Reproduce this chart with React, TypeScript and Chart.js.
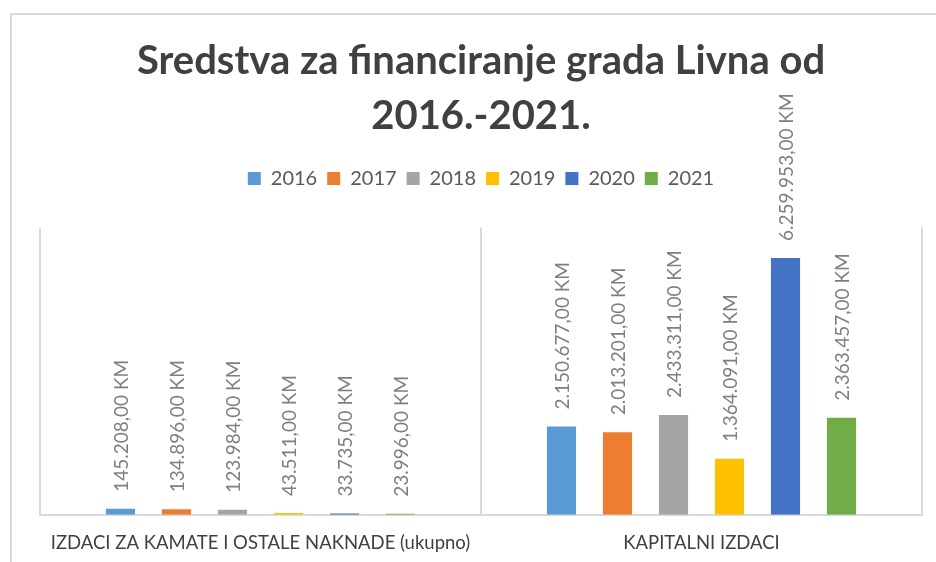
import React, { useEffect, useRef } from "react";
import { Chart, registerables } from "chart.js";

Chart.register(...registerables);

const categories = ["IZDACI ZA KAMATE I OSTALE NAKNADE (ukupno)", "KAPITALNI IZDACI"];
const years = ["2016", "2017", "2018", "2019", "2020", "2021"];
const values2016 = [145208, 2150677];
const values2017 = [134896, 2013201];
const values2018 = [123984, 2433311];
const values2019 = [43511, 1364091];
const values2020 = [33735, 6259953];
const values2021 = [23996, 2363457];
const seriesValues = [values2016, values2017, values2018, values2019, values2020, values2021];
const colors = ["#5B9BD5", "#ED7D31", "#A5A5A5", "#FFC000", "#4472C4", "#70AD47"];
const titleLines = ["Sredstva za financiranje grada Livna od", "2016.-2021."];

const FONT = "Lato, 'Noto Sans', sans-serif";

function formatKM(v: number): string {
  const s = Math.round(v).toString().replace(/\B(?=(\d{3})+(?!\d))/g, ".");
  return s + ",00 KM";
}

const dataLabelPlugin = {
  id: "dataLabels",
  afterDatasetsDraw(chart: any) {
    const ctx = chart.ctx;
    ctx.save();
    ctx.font = `19px ${FONT}`;
    ctx.fillStyle = "#7f7f7f";
    ctx.textAlign = "left";
    ctx.textBaseline = "middle";
    chart.data.datasets.forEach((ds: any, di: number) => {
      const meta = chart.getDatasetMeta(di);
      meta.data.forEach((el: any, i: number) => {
        const v = ds.data[i];
        ctx.save();
        ctx.translate(el.x + 1, el.y - 17);
        ctx.rotate(-Math.PI / 2);
        ctx.fillText(formatKM(v), 0, 0);
        ctx.restore();
      });
    });
    ctx.restore();
  },
};

const legendMarginPlugin = {
  id: "legendMargin",
  beforeInit(chart: any) {
    const legend = chart.legend;
    if (!legend) return;
    const origFit = legend.fit;
    legend.fit = function () {
      origFit.call(this);
      this.height += 29;
    };
  },
};

export default function App() {
  const ref = useRef<HTMLCanvasElement | null>(null);
  useEffect(() => {
    document.body.style.margin = "0";
    const canvas = ref.current;
    if (!canvas) return;
    const chart = new Chart(canvas, {
      type: "bar",
      data: {
        labels: categories,
        datasets: years.map((y, i) => ({
          label: y,
          data: seriesValues[i],
          backgroundColor: colors[i],
          borderWidth: 0,
          categoryPercentage: 0.762,
          barPercentage: 0.52,
        })),
      },
      options: {
        responsive: false,
        animation: false,
        devicePixelRatio: 1,
        layout: { padding: { left: 40, right: 14, top: 0, bottom: -9 } },
        plugins: {
          title: {
            display: true,
            text: titleLines,
            color: "#404040",
            font: { family: FONT, size: 40, weight: "bold", lineHeight: 1.37 },
            padding: { top: 34, bottom: 15 },
          },
          legend: {
            display: true,
            position: "top",
            labels: {
              boxWidth: 13,
              boxHeight: 13,
              padding: 10,
              color: "#595959",
              font: { family: FONT, size: 20 },
            },
          },
          tooltip: { enabled: false },
        },
        scales: {
          x: {
            grid: { color: "#d9d9d9", lineWidth: 2, drawTicks: false, offset: true },
            border: { color: "#d9d9d9", width: 2 },
            ticks: {
              color: "#404040",
              font: { family: FONT, size: 18.5 },
              padding: 17,
              maxRotation: 0,
              minRotation: 0,
              autoSkip: false,
            },
          },
          y: { display: false, min: 0, max: 7000000 },
        },
      },
      plugins: [dataLabelPlugin, legendMarginPlugin],
    });
    return () => chart.destroy();
  }, []);
  return (
    <div style={{ position: "absolute", left: 0, top: 0, width: 936, height: 562, overflow: "hidden", background: "#fff" }}>
      <div style={{ position: "absolute", left: 10, top: 13, width: 1000, height: 700, borderLeft: "2px solid #d9d9d9", borderTop: "2px solid #d9d9d9" }} />
      <canvas ref={ref} width={936} height={562} style={{ position: "absolute", left: 0, top: 0 }} />
    </div>
  );
}
